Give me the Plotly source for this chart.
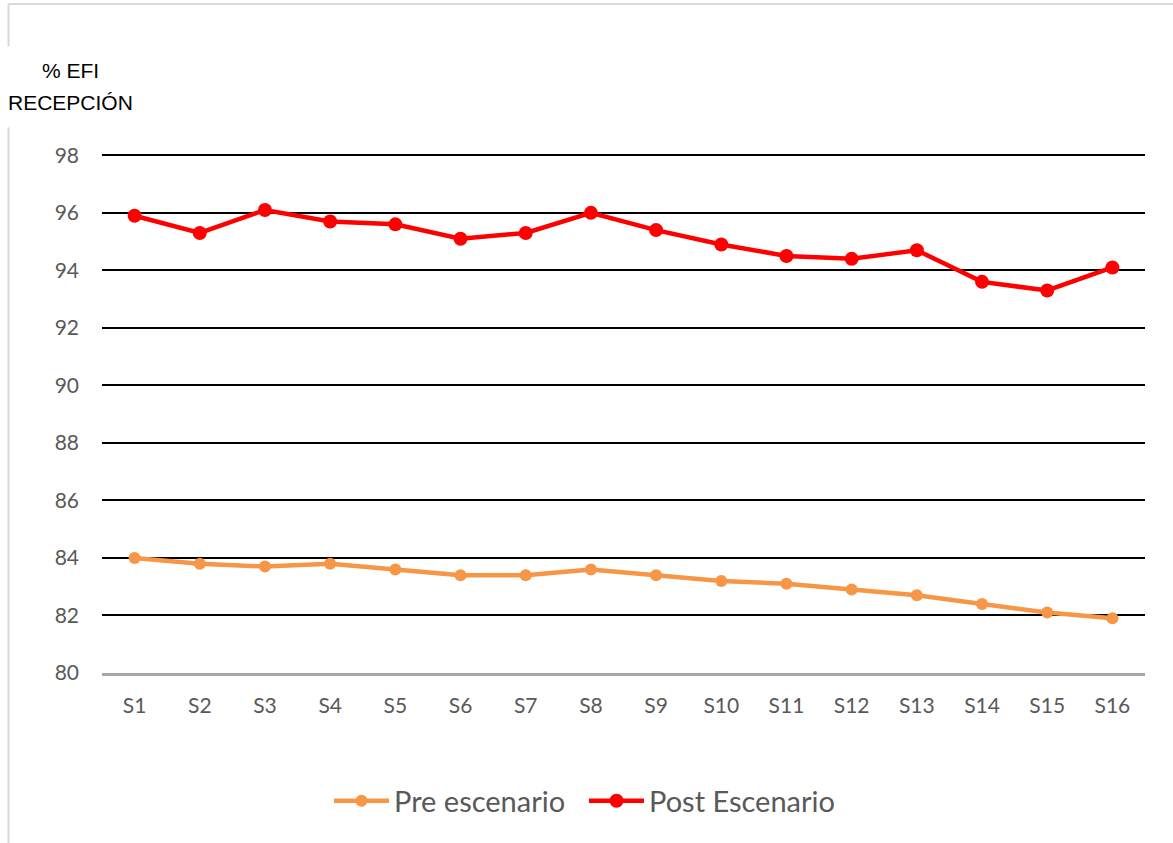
import plotly.graph_objects as go

# Sessions and reception efficiency (%) before and after the scenario
sessions = ["S1", "S2", "S3", "S4", "S5", "S6", "S7", "S8",
            "S9", "S10", "S11", "S12", "S13", "S14", "S15", "S16"]
pre_escenario = [84.0, 83.8, 83.7, 83.8, 83.6, 83.4, 83.4, 83.6,
                 83.4, 83.2, 83.1, 82.9, 82.7, 82.4, 82.1, 81.9]
post_escenario = [95.9, 95.3, 96.1, 95.7, 95.6, 95.1, 95.3, 96.0,
                  95.4, 94.9, 94.5, 94.4, 94.7, 93.6, 93.3, 94.1]
y_ticks = [80, 82, 84, 86, 88, 90, 92, 94, 96, 98]

W, H = 1173, 843
Y_MIN, Y_MAX = 80, 98.15
L, R, B = 102, 1145, 673          # plot area in pixels
T = 155 - (Y_MAX - 98) * 518 / 18  # top edge so that 98 lands at y=155


def px(x):
    return (x - L) / (R - L)


def py(y):
    return (B - y) / (B - T)


TICK_FONT = dict(family="Lato, 'Open Sans', sans-serif", size=21, color="#595959")

fig = go.Figure()
fig.add_trace(go.Scatter(
    x=sessions, y=pre_escenario, name="Pre escenario", mode="lines+markers",
    line=dict(color="#F79646", width=4.5),
    marker=dict(color="#F79646", size=12),
))
fig.add_trace(go.Scatter(
    x=sessions, y=post_escenario, name="Post Escenario", mode="lines+markers",
    line=dict(color="#FF0000", width=4.5),
    marker=dict(color="#FF0000", size=14),
))

# Light frame around the chart, interrupted by the axis title
frame = dict(color="#D9D9D9", width=2)
shapes = [
    dict(type="line", xref="paper", yref="paper", x0=px(8.5), x1=px(1180),
         y0=py(3.5), y1=py(3.5), line=frame),
    dict(type="line", xref="paper", yref="paper", x0=px(8.5), x1=px(8.5),
         y0=py(3.5), y1=py(46), line=frame),
    dict(type="line", xref="paper", yref="paper", x0=px(8.5), x1=px(8.5),
         y0=py(127), y1=py(860), line=frame),
]

title_font = dict(family="'Liberation Sans', Arial, sans-serif", size=21, color="#000000")
annotations = [
    dict(text="% EFI", xref="paper", yref="paper", x=px(70), y=py(70),
         xanchor="center", yanchor="middle", showarrow=False, font=title_font),
    dict(text="RECEPCIÓN", xref="paper", yref="paper", x=px(70), y=py(102),
         xanchor="center", yanchor="middle", showarrow=False, font=title_font),
]

fig.update_layout(
    width=W, height=H,
    margin=dict(l=L, r=W - R, t=T, b=H - B),
    paper_bgcolor="white", plot_bgcolor="white",
    shapes=shapes, annotations=annotations,
    legend=dict(orientation="h", x=px(329), xanchor="left", y=py(801), yanchor="middle",
                font=dict(family="Lato, 'Open Sans', sans-serif", size=29, color="#595959"),
                itemwidth=55, entrywidth=185, tracegroupgap=0),
    showlegend=True,
)
fig.update_xaxes(
    type="category", range=[-0.5, len(sessions) - 0.5],
    showgrid=False, zeroline=False,
    showline=True, linecolor="#A6A6A6", linewidth=2.5,
    tickfont=TICK_FONT, ticks="", ticklabelstandoff=12,
)
fig.update_yaxes(
    range=[Y_MIN, Y_MAX], tickvals=y_ticks, showgrid=True, gridcolor="#000000", gridwidth=2,
    zeroline=False, showline=False, tickfont=TICK_FONT, ticks="",
    ticklabelstandoff=22,
)

fig.write_html("out.html")
